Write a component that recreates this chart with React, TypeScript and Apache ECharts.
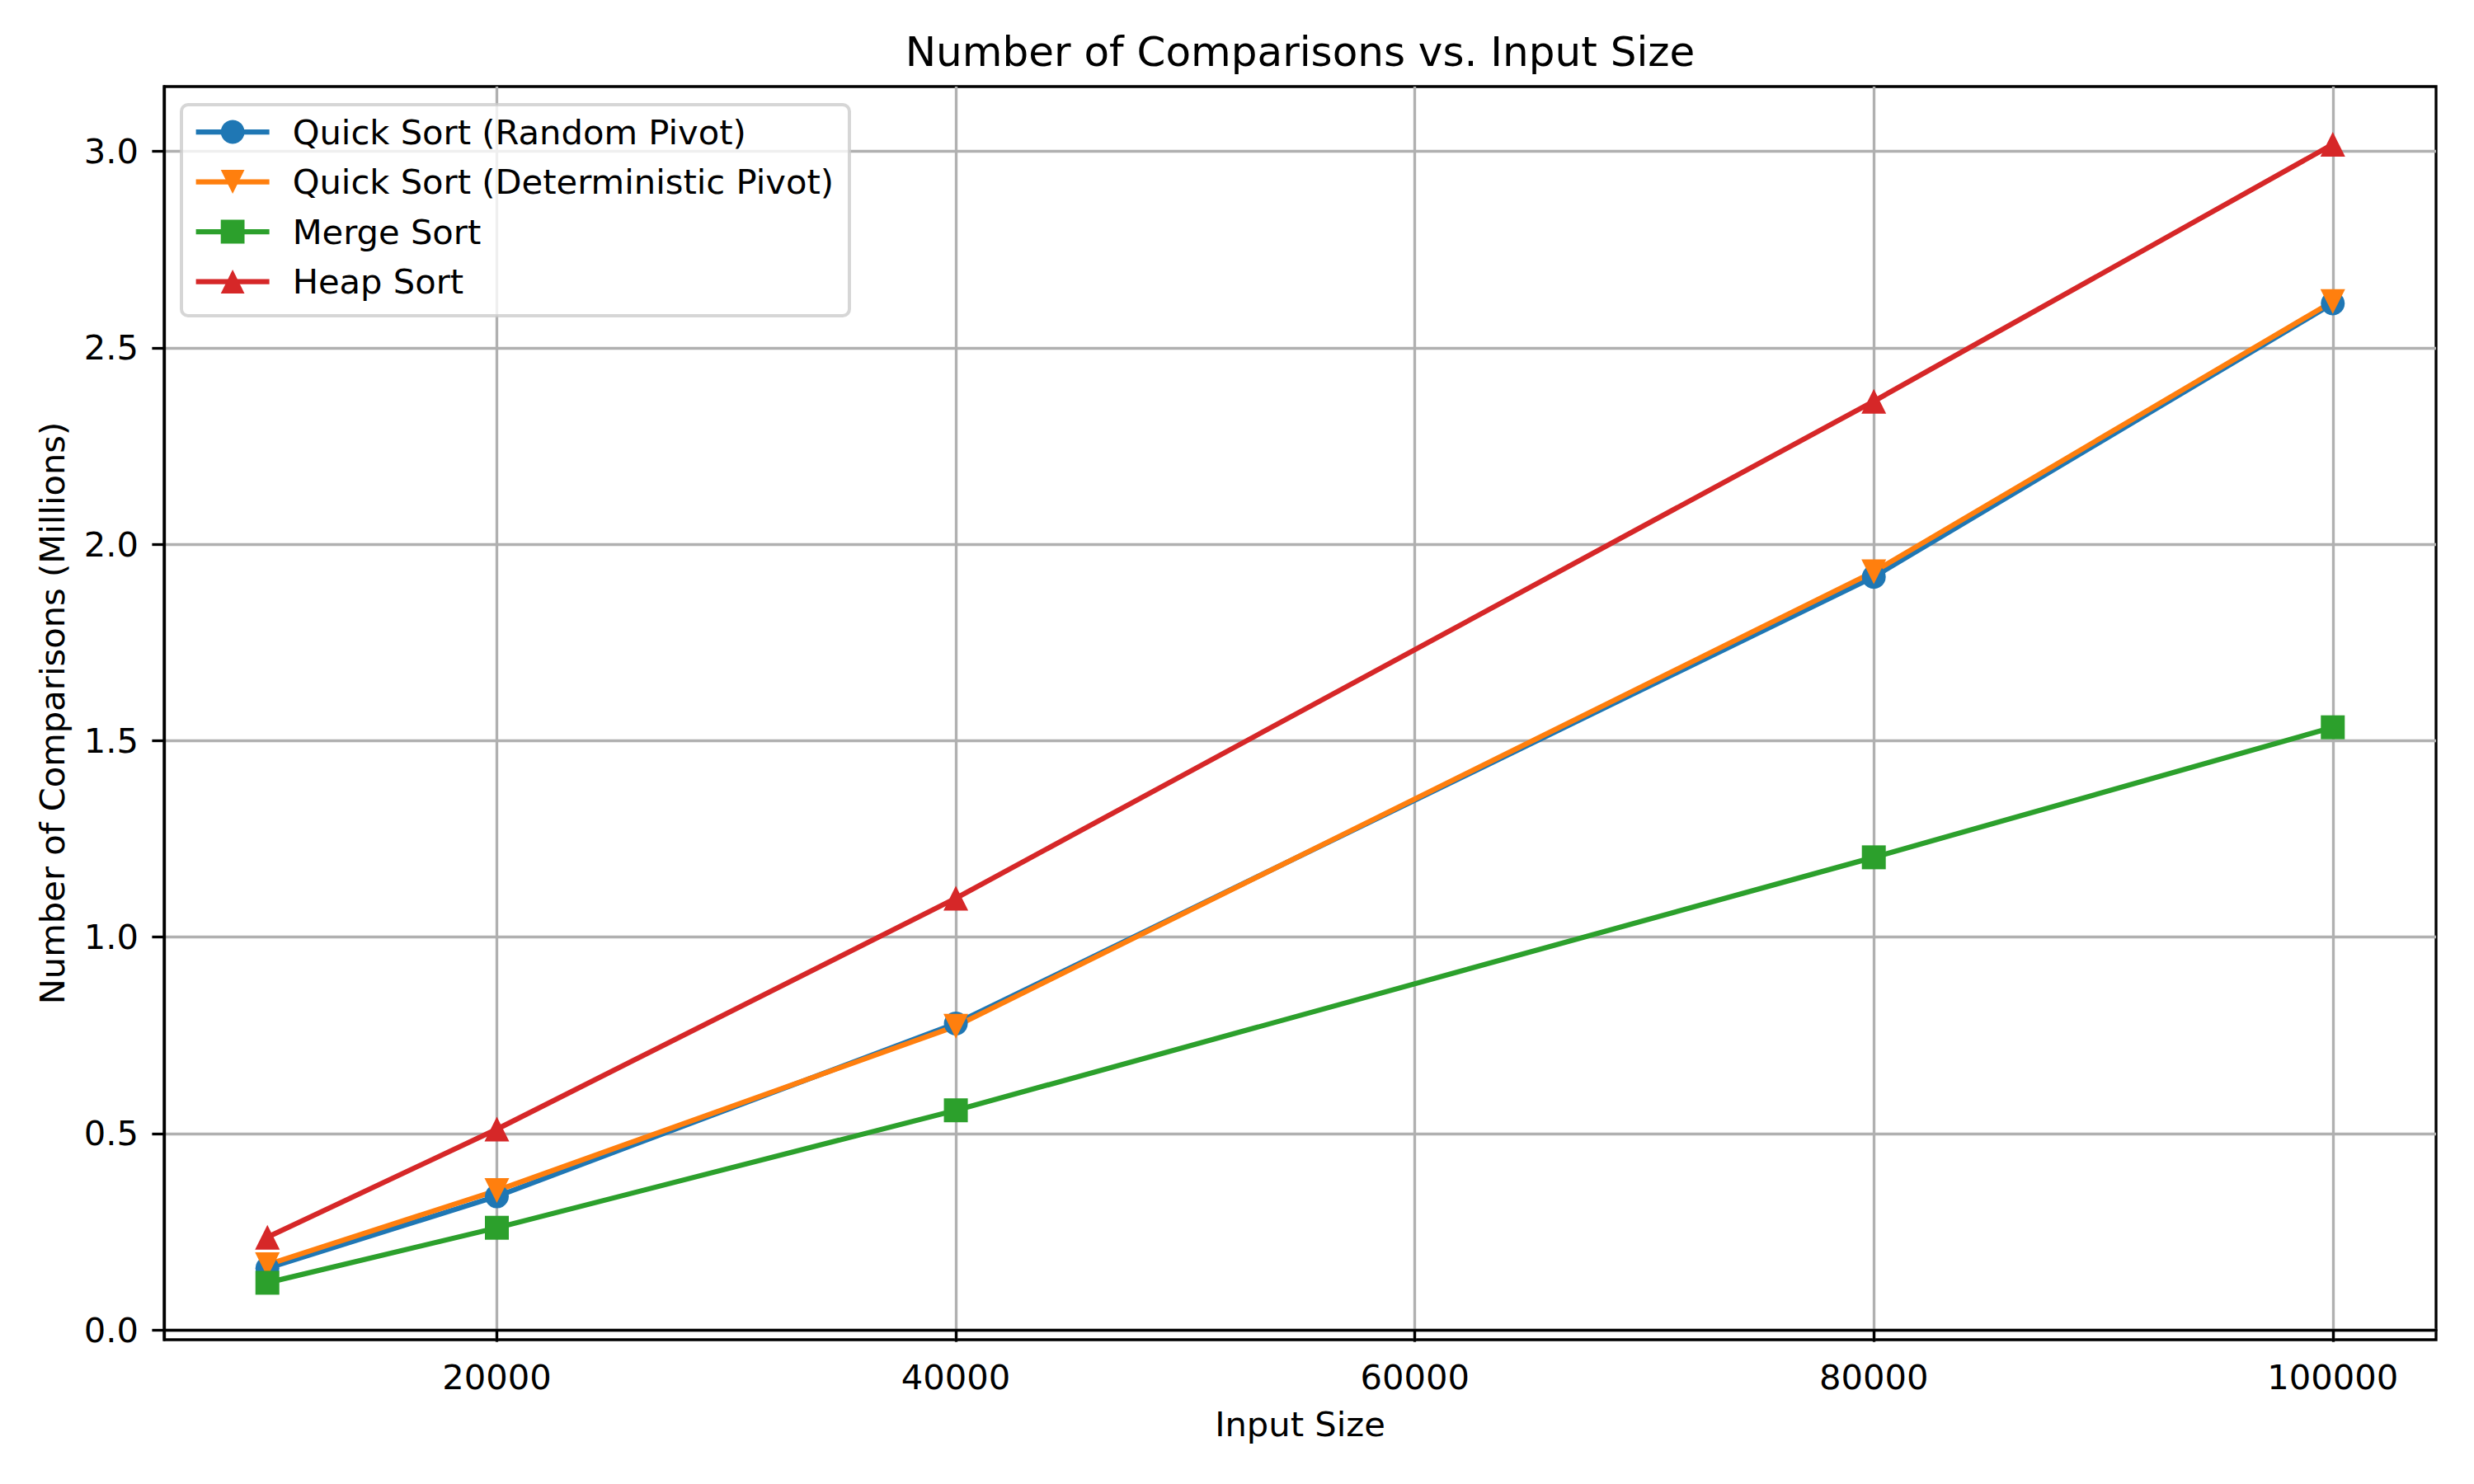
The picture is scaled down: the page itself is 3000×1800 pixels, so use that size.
import React, { useEffect, useRef } from "react";
import * as echarts from "echarts";

// Input sizes (x values) shared by every series
const inputSizes = [10000, 20000, 40000, 80000, 100000];

// Comparisons, in millions
const quickRandom = [0.157, 0.34, 0.78, 1.917, 2.613];
const quickDeterministic = [0.166, 0.355, 0.773, 1.93, 2.618];
const mergeSort = [0.12, 0.26, 0.559, 1.203, 1.534];
const heapSort = [0.236, 0.511, 1.099, 2.364, 3.018];

const seriesNames = [
  "Quick Sort (Random Pivot)",
  "Quick Sort (Deterministic Pivot)",
  "Merge Sort",
  "Heap Sort",
];

// Tick positions
const xTicks = [20000, 40000, 60000, 80000, 100000];
const yTicks = [0, 0.5, 1.0, 1.5, 2.0, 2.5, 3.0];

const FONT = "DejaVu Sans";
const LABEL_SIZE = 41.67;
const LINE_W = 6.25;
const SPINE_W = 3.33;

function pairs(ys: number[]) {
  return inputSizes.map((x, i) => [x, ys[i]]);
}

export default function App() {
  const ref = useRef<HTMLDivElement>(null);

  useEffect(() => {
    if (!ref.current) return;
    const chart = echarts.init(ref.current, undefined, { renderer: "svg" });

    const styles = [
      { color: "#1f77b4", symbol: "circle", size: 29, rotate: 0 },
      { color: "#ff7f0e", symbol: "triangle", size: 30, rotate: 180 },
      { color: "#2ca02c", symbol: "rect", size: 29, rotate: 0 },
      { color: "#d62728", symbol: "triangle", size: 30, rotate: 0 },
    ];
    const values = [quickRandom, quickDeterministic, mergeSort, heapSort];

    const series = values.map((ys, i) => ({
      name: seriesNames[i],
      type: "line",
      data: pairs(ys),
      symbol: styles[i].symbol,
      symbolSize: styles[i].size,
      symbolRotate: styles[i].rotate,
      showSymbol: true,
      lineStyle: { color: styles[i].color, width: LINE_W },
      itemStyle: { color: styles[i].color, borderWidth: 0 },
      emphasis: { disabled: true },
      z: 3,
    }));

    chart.setOption({
      animation: false,
      backgroundColor: "#ffffff",
      textStyle: { fontFamily: FONT, color: "#000" },
      title: {
        text: "Number of Comparisons vs. Input Size",
        left: 1576.5,
        top: 38,
        textAlign: "center",
        padding: 0,
        textStyle: {
          fontFamily: FONT,
          fontSize: 50,
          fontWeight: "normal",
          color: "#000",
          lineHeight: 50,
        },
      },
      legend: {
        orient: "vertical",
        left: 220,
        top: 127,
        padding: [12, 19, 20.5, 14.5],
        itemWidth: 89,
        itemHeight: 36,
        itemGap: 18.5,
        backgroundColor: "rgba(255,255,255,0.8)",
        borderColor: "rgba(204,204,204,0.8)",
        borderWidth: 4,
        borderRadius: 8,
        selectedMode: false,
        lineStyle: { width: LINE_W },
        textStyle: {
          fontFamily: FONT,
          fontSize: LABEL_SIZE,
          lineHeight: 42,
          color: "#000",
          padding: [0, 0, 0, 23],
        },
        data: seriesNames,
      },
      grid: {
        left: 199,
        right: 46,
        top: 105,
        bottom: 175,
        show: true,
        borderColor: "#000",
        borderWidth: SPINE_W,
        backgroundColor: "transparent",
      },
      xAxis: {
        type: "value",
        min: 5500,
        max: 104500,
        name: "Input Size",
        nameLocation: "middle",
        nameGap: 81,
        nameTextStyle: {
          fontFamily: FONT,
          fontSize: LABEL_SIZE,
          lineHeight: 42,
          color: "#000",
        },
        axisLine: { show: true, lineStyle: { color: "#000", width: SPINE_W } },
        axisTick: {
          show: true,
          length: 14.6,
          customValues: xTicks,
          lineStyle: { color: "#000", width: SPINE_W },
        },
        axisLabel: {
          customValues: xTicks,
          margin: 24,
          fontFamily: FONT,
          fontSize: LABEL_SIZE,
          lineHeight: 42,
          color: "#000",
          formatter: (v: number) => String(v),
        },
        splitLine: {
          show: true,
          lineStyle: { color: "#b0b0b0", width: SPINE_W },
        },
      },
      yAxis: {
        type: "value",
        min: -0.025,
        max: 3.165,
        name: "Number of Comparisons (Millions)",
        nameLocation: "middle",
        nameGap: 115,
        nameTextStyle: {
          fontFamily: FONT,
          fontSize: LABEL_SIZE,
          lineHeight: 42,
          color: "#000",
        },
        axisLine: { show: true, lineStyle: { color: "#000", width: SPINE_W } },
        axisTick: {
          show: true,
          length: 14.6,
          customValues: yTicks,
          lineStyle: { color: "#000", width: SPINE_W },
        },
        axisLabel: {
          customValues: yTicks,
          margin: 31,
          fontFamily: FONT,
          fontSize: LABEL_SIZE,
          lineHeight: 42,
          color: "#000",
          formatter: (v: number) => v.toFixed(1),
        },
        splitLine: {
          show: true,
          lineStyle: { color: "#b0b0b0", width: SPINE_W },
        },
      },
      series,
    });

    return () => chart.dispose();
  }, []);

  return (
    <div
      ref={ref}
      style={{
        position: "fixed",
        left: 0,
        top: 0,
        width: 3000,
        height: 1800,
        background: "#fff",
      }}
    />
  );
}
